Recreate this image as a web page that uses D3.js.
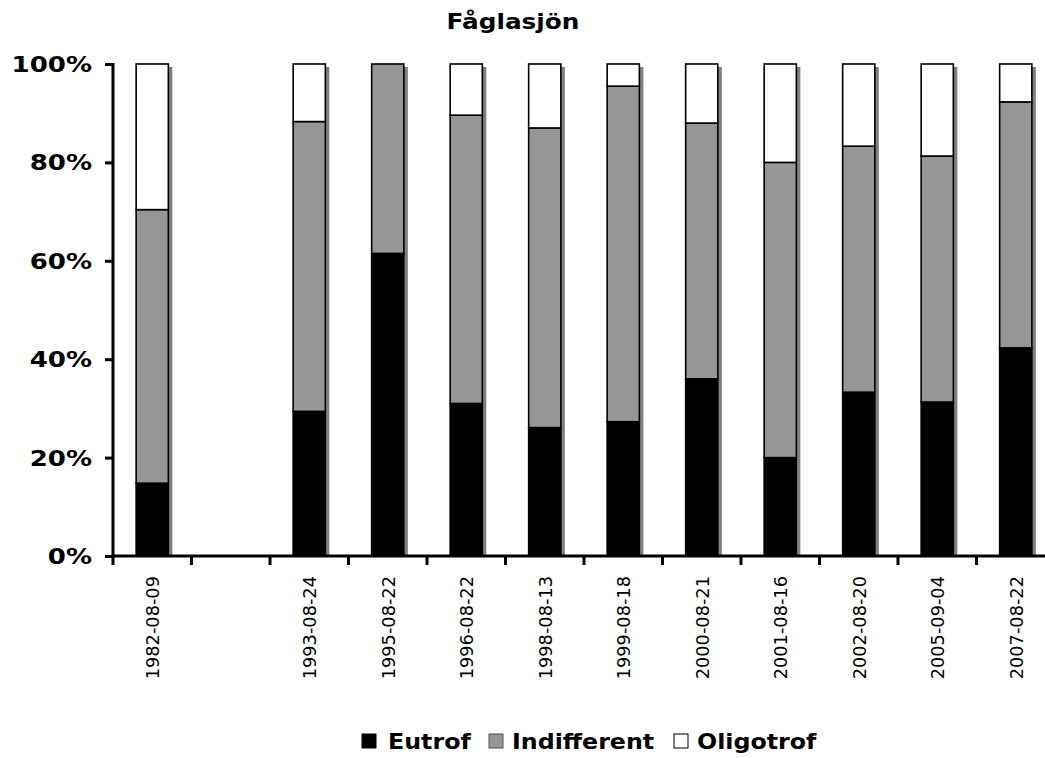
<!DOCTYPE html>
<html>
<head>
<meta charset="utf-8">
<script src="https://cdn.jsdelivr.net/npm/d3@7"></script>
<style>
  html, body { margin: 0; padding: 0; background: #fff; }
  svg { display: block; font-family: Verdana, "DejaVu Sans", sans-serif; }
</style>
</head>
<body>
<svg id="chart" width="1045" height="758"></svg>
<script>
// Sampling dates (one slot left empty between 1982 and 1993)
const dates = ["1982-08-09", "", "1993-08-24", "1995-08-22", "1996-08-22", "1998-08-13",
               "1999-08-18", "2000-08-21", "2001-08-16", "2002-08-20", "2005-09-04", "2007-08-22"];
// Share of each trophic group, in percent
const eutrof       = [14.8, null, 29.4, 61.5, 31.0, 26.1, 27.3, 36.0, 20.0, 33.3, 31.3, 42.3];
const indifferent  = [55.6, null, 58.9, 38.5, 58.6, 60.9, 68.2, 52.0, 60.0, 50.0, 50.0, 50.0];
const oligotrof    = [29.6, null, 11.7,  0.0, 10.4, 13.0,  4.5, 12.0, 20.0, 16.7, 18.7,  7.7];
const seriesNames  = ["Eutrof", "Indifferent", "Oligotrof"];
const seriesColors = ["#000000", "#969696", "#ffffff"];
const yTicks = [0, 20, 40, 60, 80, 100];

const svg = d3.select("#chart");
const m = { left: 113, right: 1055, top: 64, bottom: 556 };

// Widen bold text a little so it reads like Verdana Bold
function widen(sel, factor) {
  sel.each(function () {
    const w = this.getComputedTextLength();
    d3.select(this).attr("textLength", w * factor).attr("lengthAdjust", "spacingAndGlyphs");
  });
}

const x = d3.scaleBand().domain(d3.range(dates.length)).range([m.left, m.right]).paddingInner(0.59).paddingOuter(0.295);
const band = d3.scaleBand().domain(d3.range(dates.length)).range([m.left, m.right]);
const y = d3.scaleLinear().domain([0, 100]).range([m.bottom, m.top]);

const rows = dates.map((d, i) => ({ i, Eutrof: eutrof[i], Indifferent: indifferent[i], Oligotrof: oligotrof[i] }))
  .filter(r => r.Eutrof !== null);
const stacked = d3.stack().keys(seriesNames)(rows);

// Title
svg.append("text")
  .attr("x", 513).attr("y", 29)
  .attr("text-anchor", "middle")
  .attr("font-weight", "bold").attr("font-size", 21.5)
  .text("Fåglasjön")
  .call(widen, 1.15);

svg.append("clipPath").attr("id", "plotclip")
  .append("rect").attr("x", m.left).attr("y", 0).attr("width", m.right - m.left).attr("height", m.bottom);

const plot = svg.append("g").attr("clip-path", "url(#plotclip)");

// Drop shadows behind each column
plot.append("g").selectAll("rect")
  .data(rows)
  .join("rect")
  .attr("x", d => x(d.i) + 4)
  .attr("y", y(100) + 3)
  .attr("width", x.bandwidth())
  .attr("height", y(0) - y(100))
  .attr("fill", "#808080");

// Stacked segments
plot.append("g").selectAll("g")
  .data(stacked)
  .join("g")
  .attr("fill", (s, k) => seriesColors[k])
  .selectAll("rect")
  .data(s => s.filter(p => p[1] - p[0] > 0))
  .join("rect")
  .attr("x", p => x(p.data.i))
  .attr("y", p => y(p[1]))
  .attr("width", x.bandwidth())
  .attr("height", p => y(p[0]) - y(p[1]))
  .attr("stroke", "#000")
  .attr("stroke-width", 1.6);

// Y axis
const yAxis = d3.axisLeft(y).tickValues(yTicks).tickFormat(d => d + "%").tickSize(8).tickSizeOuter(0);
const gy = svg.append("g").attr("transform", `translate(${m.left},0)`).call(yAxis);
gy.select(".domain").attr("stroke-width", 3).attr("d", `M0,${m.top - 1}V${m.bottom + 1}`);
gy.selectAll(".tick line").attr("stroke-width", 3);
gy.selectAll(".tick text")
  .attr("x", -21).attr("dy", "0.36em")
  .attr("font-size", 21).attr("font-weight", "bold")
  .attr("font-family", "Verdana, 'DejaVu Sans', sans-serif").attr("fill", "#000")
  .call(widen, 1.24);

// X axis: ticks on category boundaries, labels rotated
const gx = svg.append("g").attr("transform", `translate(0,${m.bottom})`);
gx.append("path").attr("d", `M${m.left},0H${m.right}`).attr("stroke", "#000").attr("stroke-width", 3);
const edges = d3.range(dates.length + 1).map(i => m.left + i * band.bandwidth());
gx.selectAll("line.edge").data(edges).join("line")
  .attr("class", "edge")
  .attr("x1", d => d).attr("x2", d => d)
  .attr("y1", 0).attr("y2", 9)
  .attr("stroke", "#000").attr("stroke-width", 3);
gx.selectAll("text").data(dates.map((d, i) => ({ d, i })).filter(o => o.d))
  .join("text")
  .attr("transform", o => `translate(${band(o.i) + band.bandwidth() / 2 + 7},20) rotate(-90)`)
  .attr("text-anchor", "end")
  .attr("font-size", 17.8)
  .text(o => o.d);

// Legend
const legendItems = [
  { sx: 362, tx: 388 },
  { sx: 489, tx: 512 },
  { sx: 674, tx: 697 }
];
const lg = svg.append("g");
legendItems.forEach((it, k) => {
  lg.append("rect")
    .attr("x", it.sx).attr("y", 734).attr("width", 14).attr("height", 14)
    .attr("fill", seriesColors[k]).attr("stroke", k === 1 ? "#555" : "#000").attr("stroke-width", 1);
  lg.append("text")
    .attr("x", it.tx).attr("y", 749)
    .attr("font-size", 21).attr("font-weight", "bold")
    .text(seriesNames[k])
    .call(widen, 1.13);
});
</script>
</body>
</html>
